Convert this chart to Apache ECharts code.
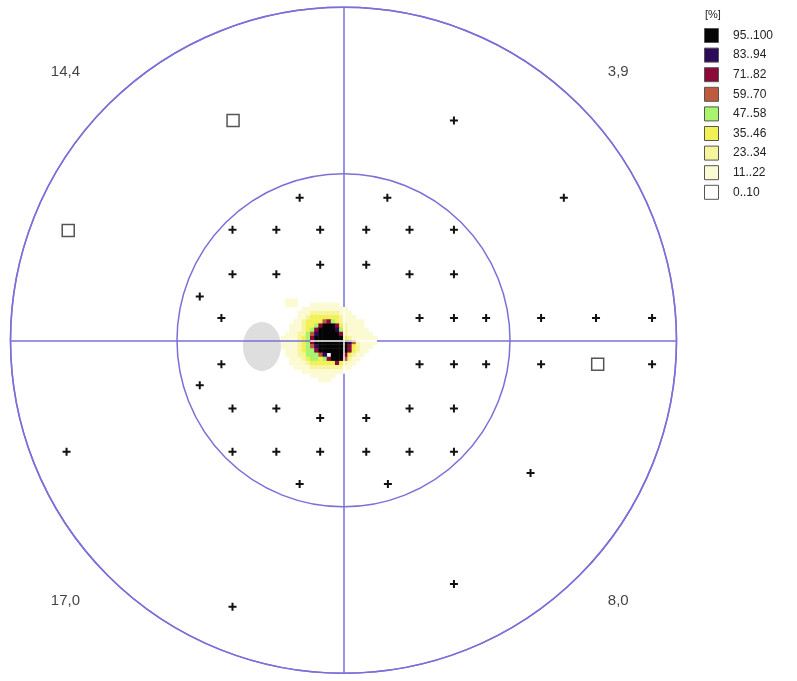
<!DOCTYPE html>
<html><head><meta charset="utf-8">
<script src="https://cdn.jsdelivr.net/npm/echarts/dist/echarts.min.js"></script>
<style>html,body{margin:0;padding:0;background:#fff}#c{width:797px;height:681px}</style>
</head><body><div id="c"></div>
<script>
// ---- Legend (percent classes) ----
const legendLabels = ['95..100','83..94','71..82','59..70','47..58','35..46','23..34','11..22','0..10'];
const legendMins   = [95, 83, 71, 59, 47, 35, 23, 11, 0];
const legendMaxs   = [100, 94, 82, 70, 58, 46, 34, 22, 10];
const legendColors = ['#050505','#2c0b58','#8c0a3a','#c05a3e','#a8f46c','#f1f155','#f6f59c','#fbfad2','#ffffff'];

// ---- Quadrant values ----
const quadrantLabels = ['14,4','3,9','17,0','8,0'];
const quadrantX = [-50.1, 49.5, -50.1, 49.5];
const quadrantY = [48.4, 48.4, -46.9, -46.9];

// ---- Stimulus points: seen (+) ----
const seenPoints = [
  [-7.9,25.7],[-20,19.9],[-12.1,19.9],[-4.2,19.9],[-4.2,13.6],[-20,11.9],[-12.1,11.9],[-25.9,7.9],[-22,4.0],
  [19.9,39.6],[7.9,25.7],[39.7,25.7],[4.1,19.9],[11.9,19.9],[19.9,19.9],[4.1,13.6],[11.9,11.9],[19.9,11.9],
  [13.7,4.0],[19.9,4.0],[25.7,4.0],[35.6,4.0],[45.5,4.0],[55.6,4.0],
  [-22,-4.3],[-25.9,-8.1],[-20,-12.3],[-12.1,-12.3],[-4.2,-14.0],[-20,-20.1],[-12.1,-20.1],[-4.2,-20.1],
  [-7.9,-25.9],[-49.9,-20.1],[-20,-48.0],
  [13.7,-4.3],[19.9,-4.3],[25.7,-4.3],[35.6,-4.3],[55.6,-4.3],[4.1,-14.0],[11.9,-12.3],[19.9,-12.3],
  [4.1,-20.1],[11.9,-20.1],[19.9,-20.1],[8.0,-25.9],[33.7,-23.9],[19.9,-43.9]
];
// ---- Stimulus points: not seen (square) ----
const missedPoints = [[-19.9,39.6],[-49.6,19.8],[45.8,-4.3]];

// ---- Blind spot ----
const blindSpot = [[-14.7,-1.1]];

// ---- Fixation density map (class index per cell, '.' = 0..10) ----
const densityRows = [
  "..111....................",
  "..111...1111111..........",
  "......11111111111........",
  ".....1112222222111.......",
  ".....11233333332111......",
  "....11233335643211111....",
  "...111233468886321111....",
  "...1112346888874211111...",
  "..111224578888862111111..",
  ".11112346888888832111111.",
  ".11112346888888887521111.",
  ".1111234578888888632111..",
  "..11123446888888863211...",
  "..1112244457.88863211....",
  "...11123443468885211.....",
  "...1111233333363211......",
  "....11112222222211.......",
  "......1111111111.........",
  "........111111...........",
  "..........111............"
];
const classValues = [5, 16, 28, 40, 52, 64, 76, 88, 98];

const cellStep = 0.75, cellU0 = -12, cellV0 = 7.5;
const densityData = [];
densityRows.forEach((row, r) => {
  for (let c = 0; c < row.length; c++) {
    const ch = row[c];
    if (ch === '.') continue;
    densityData.push([cellU0 + (c + 0.5) * cellStep, cellV0 - (r + 0.5) * cellStep, classValues[+ch]]);
  }
});

const lineBlue = '#7a70d8';
const plusPath = 'path://M3,0H5V3H8V5H5V8H3V5H0V3H3Z';
const font = '"Liberation Sans", Arial, sans-serif';

const legendGraphic = [{type:'text', left: 705, top: 9, style:{text:'[%]', font:'11px ' + font, fill:'#222'}}];
legendLabels.forEach((lab, i) => {
  const cy = 35.5 + i * 19.6;
  legendGraphic.push({type:'rect', shape:{x:704.5, y:cy-7, width:14, height:14},
    style:{fill:legendColors[i], stroke:'#555', lineWidth:1}});
  legendGraphic.push({type:'text', x:733, y:cy, style:{text:lab, font:'12px ' + font, fill:'#222', textVerticalAlign:'middle'}});
});

const chart = echarts.init(document.getElementById('c'));
chart.setOption({
  animation: false,
  backgroundColor: '#fff',
  grid: {left: 10.5, top: 7.3, width: 666, height: 666},
  xAxis: {type:'value', min:-60, max:60, show:false},
  yAxis: {type:'value', min:-60, max:60, show:false},
  polar: {center:[343.5, 340.3], radius: 333},
  angleAxis: {type:'value', min:0, max:360, axisLine:{show:true, lineStyle:{color:lineBlue, width:1.5}},
    axisTick:{show:false}, axisLabel:{show:false}, splitLine:{show:false}},
  radiusAxis: {type:'value', min:0, max:60, interval:30, axisLine:{show:false}, axisTick:{show:false},
    axisLabel:{show:false}, splitLine:{show:true, lineStyle:{color:lineBlue, width:1.5}}},
  visualMap: {type:'piecewise', show:false, seriesIndex:0, dimension:2,
    pieces: legendLabels.map((l, i) => ({min: legendMins[i], max: legendMaxs[i], color: legendColors[i]}))},
  graphic: legendGraphic,
  series: [
    {type:'scatter', name:'density', data: densityData, symbol:'rect', symbolSize: 4.6, z: 2, silent: true,
      itemStyle:{opacity:1}},
    {type:'scatter', name:'blindspot', data: blindSpot, symbol:'circle', symbolSize:[38, 49], z: 3,
      itemStyle:{color:'#dedede', opacity:1}, silent:true},
    {type:'scatter', name:'axes', data: [], z: 4,
      markLine: {silent:true, symbol:'none', label:{show:false}, z: 6,
        lineStyle:{color:lineBlue, width:1.5, type:'solid', opacity:1},
        data: [
          [{coord:[-60,0]},{coord:[-6,0]}],
          [{coord:[6,0]},{coord:[60,0]}],
          [{coord:[0,6]},{coord:[0,60]}],
          [{coord:[0,-6]},{coord:[0,-60]}]
        ]}},
    {type:'scatter', name:'axesInner', data: [], z: 4,
      markLine: {silent:true, symbol:'none', label:{show:false}, z: 7,
        lineStyle:{color:'#ffffff', width:1.5, type:'solid', opacity:1},
        data: [
          [{coord:[-6,0]},{coord:[0,0]}],
          [{coord:[0,0]},{coord:[6,0]}],
          [{coord:[0,0]},{coord:[0,6]}],
          [{coord:[0,0]},{coord:[0,-6]}]
        ]}},
    {type:'scatter', name:'seen', data: seenPoints, symbol: plusPath, symbolSize: 8, z: 8,
      itemStyle:{color:'#111', opacity:1}, silent:true},
    {type:'scatter', name:'missed', data: missedPoints, symbol:'rect', symbolSize: 12, z: 8,
      itemStyle:{color:'#fff', borderColor:'#555', borderWidth:1.5, opacity:1}, silent:true},
    {type:'scatter', name:'quadrants', z: 9, silent:true,
      data: quadrantLabels.map((t, i) => ({name:t, value:[quadrantX[i], quadrantY[i]]})),
      symbolSize: 1, itemStyle:{color:'rgba(0,0,0,0)'},
      label:{show:true, position:'inside', formatter: p => p.name, color:'#111',
        fontSize: 15, fontFamily: font}}
  ]
});
</script>
</body></html>
